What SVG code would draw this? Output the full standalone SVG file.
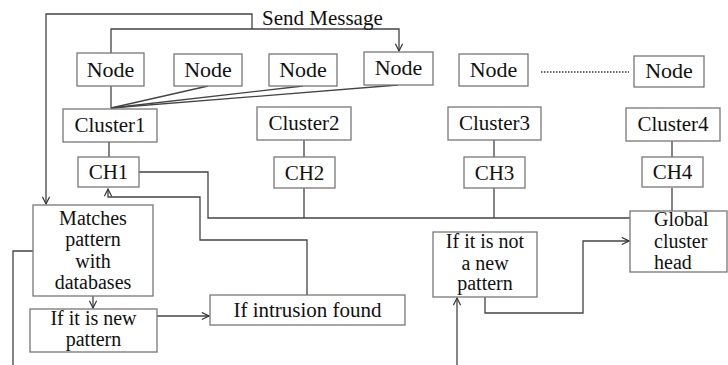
<svg xmlns="http://www.w3.org/2000/svg" width="728" height="365" viewBox="0 0 728 365">
<defs>
<style>
.box{fill:#fff;stroke:#777;stroke-width:1.3}
.t{font-family:"Liberation Serif","Times New Roman",serif;font-size:21px;fill:#111;text-anchor:middle}
.tm{font-family:"Liberation Serif","Times New Roman",serif;font-size:20px;fill:#111;text-anchor:middle}
.tl{font-family:"Liberation Serif","Times New Roman",serif;font-size:20px;fill:#111}
.tn{font-family:"Liberation Serif","Times New Roman",serif;font-size:22px;fill:#111;text-anchor:middle}
.ln{fill:none;stroke:#444;stroke-width:1.3}
</style>
<marker id="ah" viewBox="0 0 10 10" refX="9" refY="5" markerWidth="9" markerHeight="9" orient="auto" markerUnits="userSpaceOnUse">
<path d="M1,1 L9,5 L1,9" fill="none" stroke="#333" stroke-width="1.3"/>
</marker>
</defs>
<rect width="728" height="365" fill="#fff"/>
<g id="connectors">
<polyline class="ln" points="252,29 252,14 46,14 46,204" marker-end="url(#ah)"/>
<polyline class="ln" points="111,53 111,29 399,29 399,51" marker-end="url(#ah)"/>
<line class="ln" x1="111" y1="86" x2="111" y2="108"/>
<line class="ln" x1="208" y1="86" x2="111" y2="108"/>
<line class="ln" x1="303" y1="86" x2="111" y2="108"/>
<line class="ln" x1="398" y1="85" x2="111" y2="108"/>
<line x1="541" y1="72" x2="629" y2="72" stroke="#333" stroke-width="1.5" stroke-dasharray="1.5,1.5"/>
<line class="ln" x1="109" y1="142" x2="109" y2="157"/>
<line class="ln" x1="304" y1="140" x2="304" y2="157"/>
<line class="ln" x1="494" y1="140" x2="494" y2="157"/>
<line class="ln" x1="672" y1="141" x2="672" y2="157"/>
<polyline class="ln" points="139,172 208,172 208,218 630,218"/>
<line class="ln" x1="304" y1="188" x2="304" y2="218"/>
<line class="ln" x1="494" y1="188" x2="494" y2="218"/>
<line class="ln" x1="672" y1="188" x2="672" y2="211"/>
<polyline class="ln" points="307,295 307,240 200,240 200,197 108,197 108,189" marker-end="url(#ah)"/>
<line class="ln" x1="93" y1="296" x2="93" y2="308" marker-end="url(#ah)"/>
<line class="ln" x1="157" y1="316" x2="209" y2="316" marker-end="url(#ah)"/>
<polyline class="ln" points="33,251 13,251 13,365"/>
<line class="ln" x1="457" y1="365" x2="457" y2="298" marker-end="url(#ah)"/>
<polyline class="ln" points="485,297 485,313 583,313 583,241 629,241" marker-end="url(#ah)"/>
</g>
<g id="send-message"><text class="tl" x="262" y="25" style="font-size:21px">Send Message</text></g>
<g id="node1"><rect class="box" x="77" y="53" width="67" height="33"/><text class="tn" x="110.5" y="77">Node</text></g>
<g id="node2"><rect class="box" x="174" y="54" width="68" height="32"/><text class="tn" x="208" y="77">Node</text></g>
<g id="node3"><rect class="box" x="269" y="54" width="68" height="32"/><text class="tn" x="303" y="77">Node</text></g>
<g id="node4"><rect class="box" x="364" y="52" width="69" height="33"/><text class="tn" x="398.5" y="75">Node</text></g>
<g id="node5"><rect class="box" x="459" y="54" width="69" height="32"/><text class="tn" x="493.5" y="77">Node</text></g>
<g id="node6"><rect class="box" x="634" y="56" width="70" height="31"/><text class="tn" x="669" y="78">Node</text></g>
<g id="cluster1"><rect class="box" x="63" y="109" width="94" height="33"/><text class="t" x="110" y="132">Cluster1</text></g>
<g id="cluster2"><rect class="box" x="257" y="107" width="94" height="33"/><text class="t" x="304" y="130">Cluster2</text></g>
<g id="cluster3"><rect class="box" x="448" y="107" width="93" height="33"/><text class="t" x="494.5" y="130">Cluster3</text></g>
<g id="cluster4"><rect class="box" x="626" y="108" width="94" height="33"/><text class="t" x="673" y="131">Cluster4</text></g>
<g id="ch1"><rect class="box" x="78" y="157" width="61" height="30"/><text class="t" x="108.5" y="179">CH1</text></g>
<g id="ch2"><rect class="box" x="274" y="157" width="61" height="31"/><text class="t" x="304.5" y="180">CH2</text></g>
<g id="ch3"><rect class="box" x="464" y="157" width="61" height="31"/><text class="t" x="494.5" y="180">CH3</text></g>
<g id="ch4"><rect class="box" x="642" y="157" width="61" height="30"/><text class="t" x="672.5" y="179">CH4</text></g>
<g id="matches"><rect class="box" x="33" y="205" width="120" height="91"/>
<text class="tm" x="93" y="225">Matches</text><text class="tm" x="93" y="246">pattern</text><text class="tm" x="93" y="268">with</text><text class="tm" x="93" y="289">databases</text></g>
<g id="new-pattern"><rect class="box" x="30" y="309" width="127" height="43"/>
<text class="tm" x="93.5" y="325">If it is new</text><text class="tm" x="93.5" y="346">pattern</text></g>
<g id="intrusion"><rect class="box" x="210" y="295" width="195" height="30"/><text class="t" x="307.5" y="317">If intrusion found</text></g>
<g id="not-new"><rect class="box" x="433" y="232" width="104" height="65"/>
<text class="tm" x="485" y="248">If it is not</text><text class="tm" x="485" y="270">a new</text><text class="tm" x="485" y="290">pattern</text></g>
<g id="global"><rect class="box" x="630" y="211" width="97" height="61"/>
<text class="tl" x="654" y="226">Global</text><text class="tl" x="654" y="248">cluster</text><text class="tl" x="654" y="269">head</text></g>
</svg>
